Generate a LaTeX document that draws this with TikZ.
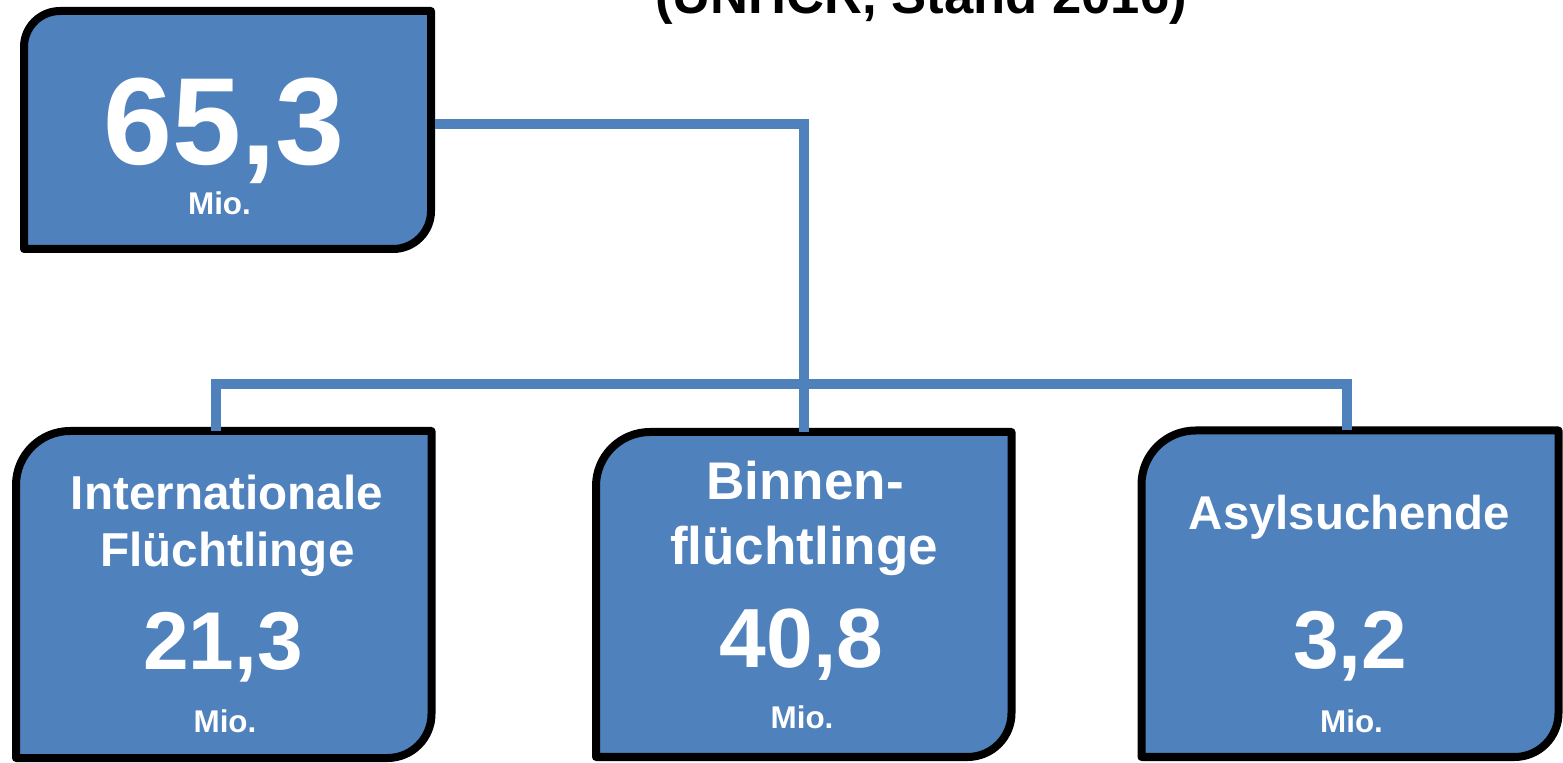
\documentclass[tikz,border=0pt]{standalone}
\usepackage{fontspec}
\setmainfont{Liberation Sans}
\definecolor{boxblue}{HTML}{4F81BD}
\newcommand\drawshapebox[3]{%
  \draw[boxline] (#1.north east) -- ([yshift=#3]#1.south east)
    arc[start angle=0,end angle=-90,radius=#3] -- (#1.south west)
    -- ([yshift=-#2]#1.north west) arc[start angle=180,end angle=90,radius=#2] -- cycle;}
\begin{document}
\begin{tikzpicture}[x=0.5pt,y=-0.5pt,
  boxarea/.style={draw=none,rectangle,inner sep=0pt,outer sep=0pt},
  boxline/.style={draw=black,fill=boxblue,line width=4pt,line join=round},
  conn/.style={draw=boxblue,line width=5pt,line join=miter},
  txt/.style={anchor=base,text=white,inner sep=0pt,font=\bfseries},
  title/.style={anchor=base,text=black,inner sep=0pt,font=\bfseries\fontsize{26.3}{30}\selectfont}]
\useasboundingbox (0,0) rectangle (1563,763);
\clip (0,0) rectangle (1563,763);
\node[title] (ttl) at (921,13.5) {(UNHCR, Stand 2016)};
% boxes
\node[boxarea,minimum width=203.5pt,minimum height=119pt] (top) at (227.5,130) {};
\node[boxarea,minimum width=207.75pt,minimum height=163.5pt] (lb) at (223.75,594.5) {};
\node[boxarea,minimum width=207.75pt,minimum height=162.5pt] (mb) at (803.75,594.5) {};
\node[boxarea,minimum width=208.5pt,minimum height=163.25pt] (rb) at (1350,593.75) {};
\drawshapebox{top}{18pt}{19pt}
\drawshapebox{lb}{27pt}{22pt}
\drawshapebox{mb}{27pt}{22pt}
\drawshapebox{rb}{27pt}{22pt}
% texts
\node[txt,font=\bfseries\fontsize{62}{70}\selectfont] (topnum) at (224,165) {65,3};
\node[txt,font=\bfseries\fontsize{15.7}{18}\selectfont] (topmio) at (219.5,215) {Mio.};
\node[txt,font=\bfseries\fontsize{23.8}{28}\selectfont] (lb1) at (227,510) {Internationale};
\node[txt,font=\bfseries\fontsize{23.8}{28}\selectfont] (lb2) at (227.5,567) {Flüchtlinge};
\node[txt,font=\bfseries\fontsize{41}{46}\selectfont] (lbnum) at (223,670) {21,3};
\node[txt,font=\bfseries\fontsize{15.7}{18}\selectfont] (lbmio) at (225,733) {Mio.};
\node[txt,font=\bfseries\fontsize{26.5}{30}\selectfont] (mb1) at (805,500) {Binnen-};
\node[txt,font=\bfseries\fontsize{26.5}{30}\selectfont] (mb2) at (804,565) {flüchtlinge};
\node[txt,font=\bfseries\fontsize{42}{46}\selectfont] (mbnum) at (801.5,668) {40,8};
\node[txt,font=\bfseries\fontsize{15.7}{18}\selectfont] (mbmio) at (802,729) {Mio.};
\node[txt,font=\bfseries\fontsize{23.7}{28}\selectfont] (rb1) at (1349.5,530) {Asylsuchende};
\node[txt,font=\bfseries\fontsize{41}{46}\selectfont] (rbnum) at (1350,669) {3,2};
\node[txt,font=\bfseries\fontsize{15.7}{18}\selectfont] (rbmio) at (1351.5,733) {Mio.};
% connectors
\coordinate (j1) at (804,124);
\coordinate (bl) at (216,384);
\coordinate (br) at (1347,384);
\draw[conn] ([xshift=2pt]top.east |- j1) -- (j1) -- (j1 |- mb.north);
\draw[conn] (bl |- lb.north) -- (bl) -- (br) -- (br |- rb.north);
\end{tikzpicture}
\end{document}
